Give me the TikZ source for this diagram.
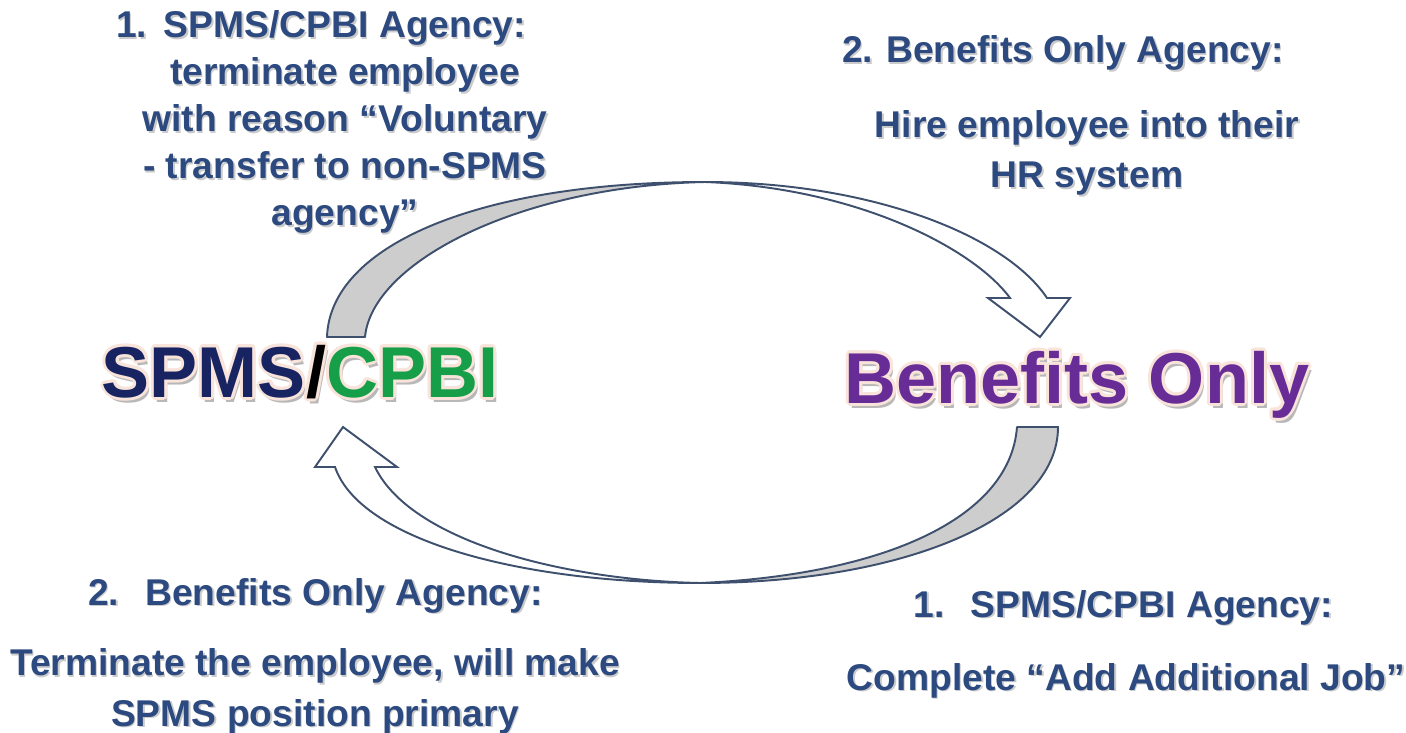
\documentclass[tikz,border=0pt]{standalone}
\usepackage{fontspec}
\setmainfont{Liberation Sans}
\usepackage{tikz}

\definecolor{stepblue}{RGB}{44,74,128}
\definecolor{spmsnavy}{RGB}{24,36,98}
\definecolor{cpbigreen}{RGB}{22,158,72}
\definecolor{benefitpurple}{RGB}{104,44,150}
\definecolor{rimpink}{RGB}{248,228,218}
\definecolor{arrowline}{RGB}{62,80,110}
\definecolor{arrowback}{RGB}{205,205,205}

\tikzset{
    step-text/.style = {text=stepblue, font=\bfseries\fontsize{21.2}{26.8}\selectfont, align=center, inner sep=0pt, anchor=base},
    step-body/.style = {font=\bfseries\fontsize{21.2}{28.6}\selectfont},
    step-shadow/.style = {text=black!45, opacity=0.45},
    title-text/.style = {font=\bfseries\fontsize{41}{44}\selectfont, inner sep=0pt, anchor=base},
    ribbon-back/.style = {draw=arrowline, fill=arrowback, line width=1.1pt, line join=round},
    ribbon-front/.style = {draw=arrowline, fill=white, line width=1.1pt, line join=miter},
}

% step text with a soft drop shadow: name, extra style, position (base of last line), text
\newcommand{\stepnode}[4]{%
    \node[step-text, #2, step-shadow] at ([shift={(1.5,1.5)}]#3) {#4};
    \node[step-text, #2] (#1) at (#3) {#4};}

% big label with rim and shadow: name, position, plain text, coloured text
\newcommand{\titlenode}[4]{%
    \node[title-text, text=black!55, opacity=0.5] at ([shift={(3,5)}]#2) {#3};
    \foreach \a in {0,30,...,330}
        \node[title-text, text=rimpink] at ([shift={(\a:3)}]#2) {#3};
    \node[title-text] (#1) at (#2) {#4};}

\begin{document}
\begin{tikzpicture}[x=0.02cm, y=-0.02cm]
\path[use as bounding box, fill=white] (0,0) rectangle (1406,733);

% upper ribbon arrow, SPMS/CPBI -> Benefits Only
\coordinate (ta-out) at (327,337);
\coordinate (ta-in) at (365,337);
\coordinate (ta-apex) at (705,182);
\coordinate (ta-shaft-in) at (1010,298);
\coordinate (ta-shaft-out) at (1047,298);
\coordinate (ta-barb-l) at (988,298);
\coordinate (ta-barb-r) at (1070,298);
\coordinate (ta-tip) at (1040,337);
\draw[ribbon-back] (ta-out) .. controls (330,245) and (480,182) .. (ta-apex)
    .. controls (520,186) and (372,262) .. (ta-in) -- cycle;
\draw[ribbon-front] (ta-apex) .. controls (870,182) and (1005,235) .. (ta-shaft-out)
    -- (ta-barb-r) -- (ta-tip) -- (ta-barb-l) -- (ta-shaft-in)
    .. controls (975,250) and (860,188) .. (ta-apex) -- cycle;

% lower ribbon arrow, Benefits Only -> SPMS/CPBI
\coordinate (ba-out) at (1058,427);
\coordinate (ba-in) at (1017,427);
\coordinate (ba-apex) at (700,583);
\coordinate (ba-shaft-out) at (335,467);
\coordinate (ba-shaft-in) at (375,467);
\coordinate (ba-barb-l) at (315,467);
\coordinate (ba-barb-r) at (397,467);
\coordinate (ba-tip) at (343,427);
\draw[ribbon-back] (ba-in) -- (ba-out) .. controls (1058,520) and (900,583) .. (ba-apex)
    .. controls (880,575) and (1010,520) .. (ba-in) -- cycle;
\draw[ribbon-front] (ba-apex) .. controls (520,583) and (360,540) .. (ba-shaft-out)
    -- (ba-barb-l) -- (ba-tip) -- (ba-barb-r) -- (ba-shaft-in)
    .. controls (410,540) and (560,580) .. (ba-apex) -- cycle;

% the two agency types
\titlenode{spms}{300,397}{SPMS/CPBI}{\textcolor{spmsnavy}{SPMS}\textcolor{black}{/}\textcolor{cpbigreen}{CPBI}}
\titlenode{benefits}{1077,403}{Benefits Only}{\textcolor{benefitpurple}{Benefits Only}}

% steps
\stepnode{leave-step}{}{345,226}{\llap{1.\hspace{0.45em}}SPMS/CPBI Agency:\\ terminate employee\\ with reason “Voluntary\\ - transfer to non-SPMS\\ agency”}
\stepnode{hire-head}{}{1085,63}{\llap{2.\hspace{0.35em}}Benefits Only Agency:}
\stepnode{hire-step}{step-body}{1087,188}{Hire employee into their\\ HR system}
\stepnode{term-head}{}{344,605}{\llap{2.\hspace{0.7em}}Benefits Only Agency:}
\stepnode{term-step}{step-body}{315,726}{Terminate the employee, will make\\ SPMS position primary}
\stepnode{addjob-head}{}{1152,617}{\llap{1.\hspace{0.7em}}SPMS/CPBI Agency:}
\stepnode{addjob-step}{}{1126,690}{Complete “Add Additional Job”}
\end{tikzpicture}
\end{document}
